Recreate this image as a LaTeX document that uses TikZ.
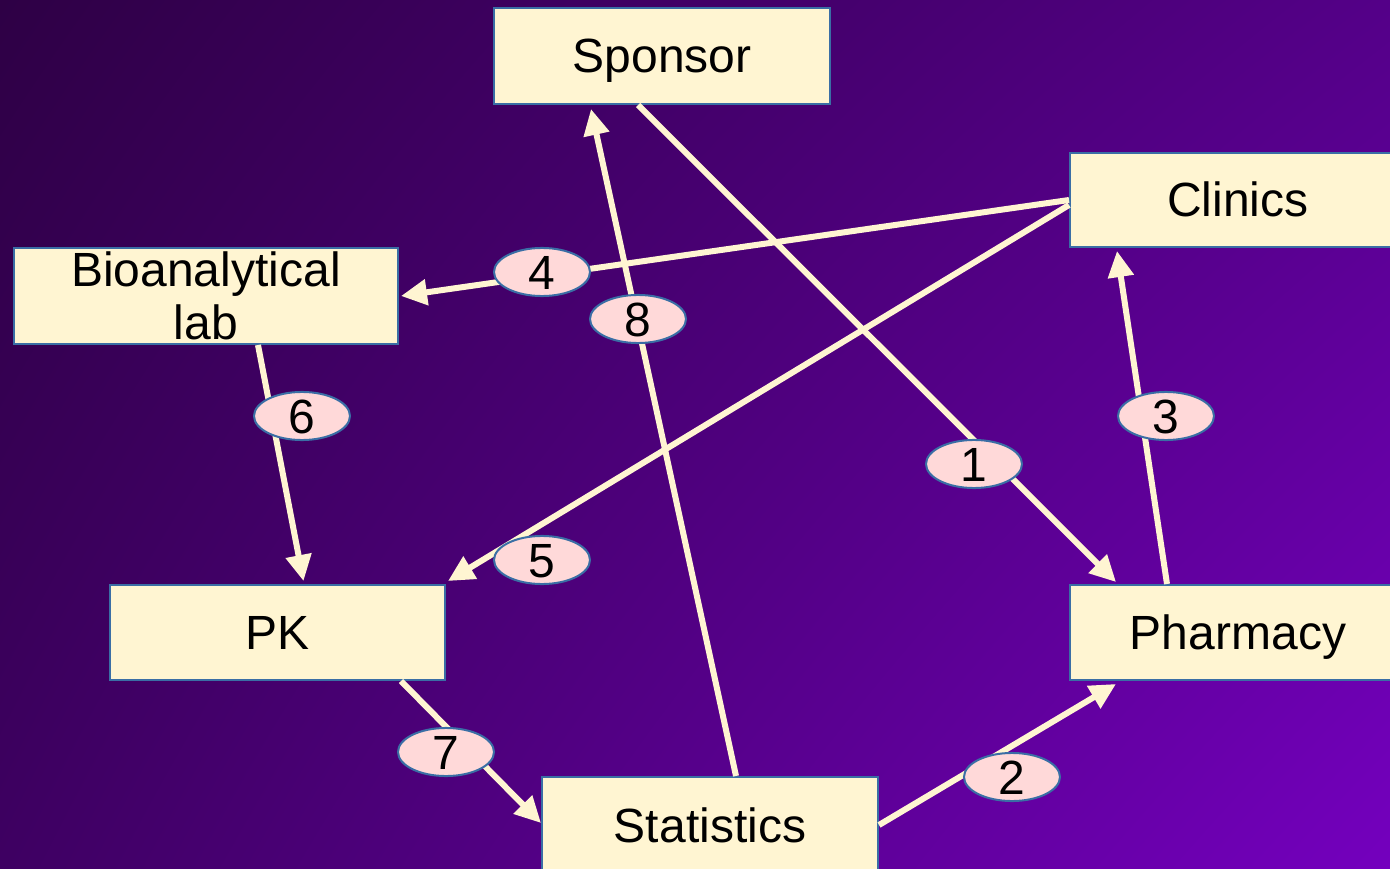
\documentclass[tikz,border=0pt]{standalone}
\usepackage{fontspec}
\setmainfont{Liberation Sans}
\usetikzlibrary{arrows.meta,shapes.geometric,shadings}
\definecolor{bgul}{HTML}{2E0045}
\definecolor{bgur}{HTML}{540088}
\definecolor{bgll}{HTML}{3E0062}
\definecolor{bglr}{HTML}{7400BE}
\definecolor{boxfill}{HTML}{FFF5D2}
\definecolor{boxline}{HTML}{3A6EA5}
\definecolor{lblfill}{HTML}{FFD9D9}
\definecolor{arrcol}{HTML}{FFF5D2}
\newcommand{\bigtxt}{\fontsize{48}{53}\selectfont}
\tikzset{
  basebox/.style={draw=boxline, line width=2pt, fill=boxfill, minimum width=336pt,
    minimum height=96pt, inner sep=0pt, font=\bigtxt, align=center},
  stagebox/.style={basebox, text height=34pt, text depth=0pt},
  numlbl/.style={ellipse, draw=boxline, line width=2pt, fill=lblfill, minimum width=96pt,
    minimum height=47pt, inner sep=0pt, font=\bigtxt, text height=34pt, text depth=0pt},
  flow/.style={line width=6pt, draw=arrcol, -{Triangle[length=26pt,width=25pt]}}
}
\begin{document}
\begin{tikzpicture}[x=1pt,y=-1pt]
\useasboundingbox (0,0) rectangle (1390,869);
\clip (0,0) rectangle (1390,869);
\shade[upper left=bgul, upper right=bgur, lower left=bgll, lower right=bglr] (0,0) rectangle (1390,869);

\node[stagebox] (sponsor) at (662,56) {Sponsor};
\node[stagebox, minimum height=94pt] (clinics) at (1238,200) {Clinics};
\node[basebox, minimum width=384pt] (bio) at (206,296) {Bioanalytical\\lab};
\node[stagebox, minimum width=335pt, minimum height=95pt] (pk) at (277.5,632.5) {PK};
\node[stagebox, minimum height=95pt] (pharm) at (1238,632.5) {Pharmacy};
\node[stagebox] (stat) at (710,825) {Statistics};

\draw[flow] ([xshift=-24pt]sponsor.south) -- ([xshift=47pt,yshift=2pt]pharm.north west);
\draw[flow] (stat.east) -- ([xshift=47pt,yshift=-3pt]pharm.south west);
\draw[flow] ([xshift=-71pt]pharm.north) -- ([xshift=48pt,yshift=-3pt]clinics.south west);
\draw[flow] (clinics.west) -- ([xshift=2pt]bio.east);
\draw[flow] ([yshift=-5pt]clinics.west) -- ([xshift=2pt,yshift=3pt]pk.north east);
\draw[flow] ([xshift=52pt]bio.south) -- ([xshift=26pt,yshift=3pt]pk.north);
\draw[flow] ([xshift=-45pt]pk.south east) -- ([yshift=2pt]stat.west);
\draw[flow] ([xshift=26pt]stat.north) -- ([xshift=98pt,yshift=-4pt]sponsor.south west);

\node[numlbl] (l1) at (974,464) {1};
\node[numlbl] (l2) at (1012,777) {2};
\node[numlbl] (l3) at (1166,416) {3};
\node[numlbl] (l4) at (542,272) {4};
\node[numlbl] (l5) at (542,560) {5};
\node[numlbl] (l6) at (302,416) {6};
\node[numlbl] (l7) at (446,752) {7};
\node[numlbl] (l8) at (638,319) {8};
\end{tikzpicture}
\end{document}
